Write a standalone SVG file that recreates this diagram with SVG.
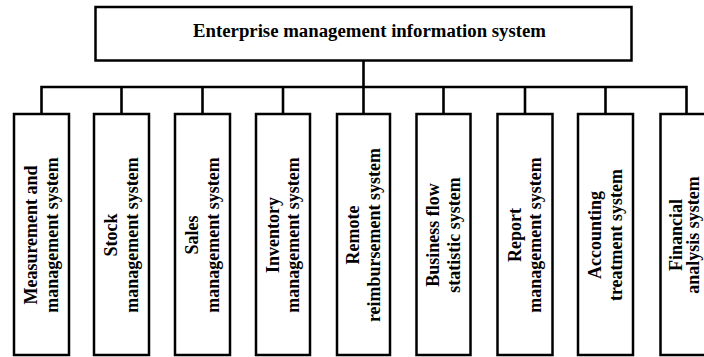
<svg xmlns="http://www.w3.org/2000/svg" width="704" height="357" viewBox="0 0 704 357">
  <style>
    .box { fill: #ffffff; stroke: #000000; stroke-width: 2.5; }
    .wire { fill: none; stroke: #000000; stroke-width: 2.6; stroke-linecap: square; }
    .lbl { font-family: "Liberation Serif", "Times New Roman", serif; font-weight: bold; font-size: 18px; fill: #000000; text-anchor: middle; }
  </style>
  <rect width="704" height="357" fill="#ffffff"/>

  <!-- tree connectors -->
  <g id="connectors">
    <path class="wire" d="M363.5 60.5 V87 M41.5 87 H686.5 M41.5 87 V114 M121.5 87 V114 M202.5 87 V114 M283 87 V114 M363.5 87 V114 M443.5 87 V114 M525 87 V114 M605.5 87 V114 M686.5 87 V114"/>
  </g>

  <!-- root -->
  <g id="root">
    <rect class="box" x="95.5" y="7" width="536" height="53.5"/>
    <text class="lbl" x="369.5" y="37" textLength="353" lengthAdjust="spacingAndGlyphs">Enterprise management information system</text>
  </g>

  <!-- subsystems: vertical labels read bottom to top -->
  <g id="measurement">
    <rect class="box" x="14" y="114" width="55" height="241"/>
    <text class="lbl" transform="translate(41.5 235) rotate(-90)"><tspan x="0" y="-4.5">Measurement and</tspan><tspan x="0" y="16">management system</tspan></text>
  </g>
  <g id="stock">
    <rect class="box" x="94" y="114" width="55" height="241"/>
    <text class="lbl" transform="translate(121.5 235) rotate(-90)"><tspan x="0" y="-4.5">Stock</tspan><tspan x="0" y="16">management system</tspan></text>
  </g>
  <g id="sales">
    <rect class="box" x="175" y="114" width="55" height="241"/>
    <text class="lbl" transform="translate(202.5 235) rotate(-90)"><tspan x="0" y="-4.5">Sales</tspan><tspan x="0" y="16">management system</tspan></text>
  </g>
  <g id="inventory">
    <rect class="box" x="256" y="114" width="54" height="241"/>
    <text class="lbl" transform="translate(283 235) rotate(-90)"><tspan x="0" y="-4.5">Inventory</tspan><tspan x="0" y="16">management system</tspan></text>
  </g>
  <g id="reimbursement">
    <rect class="box" x="337" y="114" width="53" height="241"/>
    <text class="lbl" transform="translate(363.5 235) rotate(-90)"><tspan x="0" y="-4.5">Remote</tspan><tspan x="0" y="16">reimbursement system</tspan></text>
  </g>
  <g id="business-flow">
    <rect class="box" x="416.5" y="114" width="54" height="241"/>
    <text class="lbl" transform="translate(443.5 235) rotate(-90)"><tspan x="0" y="-4.5">Business flow</tspan><tspan x="0" y="16">statistic system</tspan></text>
  </g>
  <g id="report">
    <rect class="box" x="497.5" y="114" width="55" height="241"/>
    <text class="lbl" transform="translate(525 235) rotate(-90)"><tspan x="0" y="-4.5">Report</tspan><tspan x="0" y="16">management system</tspan></text>
  </g>
  <g id="accounting">
    <rect class="box" x="578" y="114" width="55" height="241"/>
    <text class="lbl" transform="translate(605.5 235) rotate(-90)"><tspan x="0" y="-4.5">Accounting</tspan><tspan x="0" y="16">treatment system</tspan></text>
  </g>
  <g id="financial">
    <rect class="box" x="660.5" y="114" width="55" height="241"/>
    <!-- lines pulled in slightly so the second line stays inside the canvas -->
    <text class="lbl" transform="translate(688 235) rotate(-90)"><tspan x="0" y="-6.5">Financial</tspan><tspan x="0" y="11">analysis system</tspan></text>
  </g>
</svg>
